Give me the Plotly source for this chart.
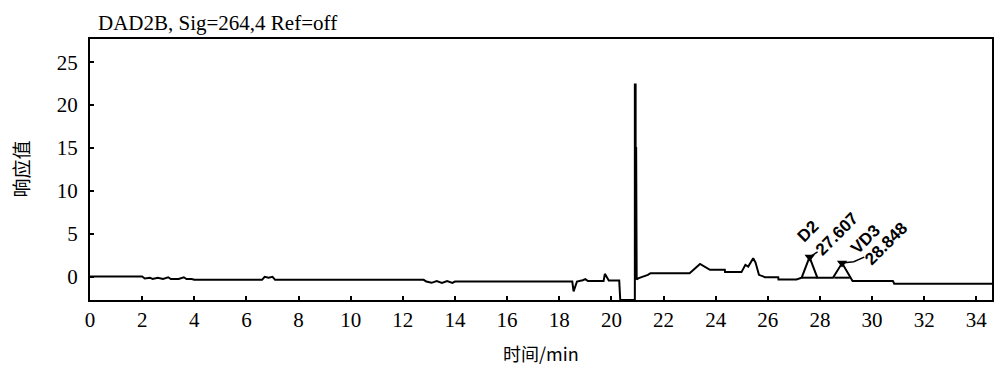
import plotly.graph_objects as go

# Chromatogram trace (time in min, response)
time_min = [0.0, 2.0, 2.1, 2.3, 2.4, 2.6, 2.8, 3.0, 3.1, 3.4, 3.6, 3.7, 3.9, 4.0,
            6.6, 6.7, 6.85, 7.0, 7.1, 12.8, 12.9, 13.1, 13.3, 13.5, 13.7, 13.9, 14.0,
            18.5, 18.55, 18.68, 18.9, 19.0, 19.1, 19.7, 19.75, 19.9, 20.3, 20.34,
            20.9, 20.9, 20.93, 20.93, 20.95, 20.97, 21.05, 21.4, 21.5,
            23.0, 23.4, 23.78, 24.35, 24.36, 24.99, 25.14, 25.25, 25.44, 25.53, 25.66, 25.89,
            26.4, 26.41, 27.1, 27.3, 27.6, 27.9, 28.0, 28.5, 28.85, 29.15, 29.25,
            30.8, 30.85, 34.6]
signal = [0.03, 0.03, -0.2, -0.1, -0.25, -0.1, -0.25, -0.05, -0.25, -0.25, -0.05, -0.25, -0.25, -0.35,
          -0.35, 0.0, -0.1, 0.0, -0.35, -0.35, -0.55, -0.7, -0.5, -0.7, -0.5, -0.7, -0.55,
          -0.55, -1.7, -0.55, -0.4, -0.27, -0.5, -0.5, 0.35, -0.43, -0.43, -2.7,
          -2.7, 22.4, 22.4, 15.0, 15.0, -0.3, -0.15, 0.23, 0.43,
          0.43, 1.5, 0.81, 0.81, 0.55, 0.55, 1.4, 1.2, 2.17, 1.66, 0.23, -0.04,
          -0.04, -0.3, -0.3, -0.1, 2.3, -0.1, -0.1, -0.1, 1.6, -0.1, -0.5,
          -0.5, -0.8, -0.8]

# Labelled peaks
peak_names = ["D2", "VD3"]
peak_times = [27.607, 28.848]
peak_heights = [2.3, 1.6]

x_ticks = list(range(0, 35, 2))
y_ticks = [0, 5, 10, 15, 20, 25]

serif = "Liberation Serif"
cjk = "Noto Sans CJK SC"
bold_sans = "Liberation Sans"

fig = go.Figure()
fig.add_trace(go.Scatter(x=time_min, y=signal, mode="lines",
                         line=dict(color="black", width=2), hoverinfo="skip",
                         showlegend=False))
# integration baselines under the labelled peaks
for t in peak_times:
    fig.add_trace(go.Scatter(x=[t - 0.3, t + 0.3], y=[-0.1, -0.1], mode="lines",
                             line=dict(color="black", width=2), showlegend=False,
                             hoverinfo="skip"))
fig.add_trace(go.Scatter(x=peak_times, y=peak_heights, mode="markers",
                         marker=dict(symbol="triangle-down", size=9, color="black"),
                         showlegend=False, hoverinfo="skip"))
# D2 leader tick
fig.add_trace(go.Scatter(x=[peak_times[0], peak_times[0] + 0.3],
                         y=[peak_heights[0], peak_heights[0] + 0.6],
                         mode="lines", line=dict(color="black", width=1.5),
                         showlegend=False, hoverinfo="skip"))
# VD3 leader line
fig.add_trace(go.Scatter(x=[peak_times[1], peak_times[1] + 0.45, peak_times[1] + 0.85],
                         y=[peak_heights[1], peak_heights[1] + 0.15, peak_heights[1] + 0.7],
                         mode="lines", line=dict(color="black", width=1.5),
                         showlegend=False, hoverinfo="skip"))

# Rotated peak labels (offsets from peak apex, in data units)
name_offsets = [(-0.07, 3.0), (0.9, 2.75)]
time_offsets = [(1.03, 2.65), (1.7, 2.3)]
lab_font = dict(family=bold_sans, size=17, color="black", weight="bold")
for name, t, h, dn, dt in zip(peak_names, peak_times, peak_heights, name_offsets, time_offsets):
    fig.add_annotation(x=t + dn[0], y=h + dn[1], text=name, showarrow=False,
                       textangle=-45, font=lab_font, xanchor="center", yanchor="middle")
    fig.add_annotation(x=t + dt[0], y=h + dt[1], text=f"{t:.3f}", showarrow=False,
                       textangle=-45, font=lab_font, xanchor="center", yanchor="middle")

fig.update_xaxes(range=[0, 34.6], tickvals=x_ticks, ticks="inside", ticklen=4,
                 tickwidth=1.5, tickcolor="black", showline=True, linecolor="black",
                 linewidth=2, mirror=True, showgrid=False, zeroline=False,
                 tickfont=dict(family=serif, size=21, color="black"))
fig.update_yaxes(range=[-2.7, 27.7], tickvals=y_ticks, ticks="inside", ticklen=4,
                 tickwidth=1.5, tickcolor="black", showline=True, linecolor="black",
                 linewidth=2, mirror=True, showgrid=False, zeroline=False,
                 ticklabelstandoff=6,
                 tickfont=dict(family=serif, size=21, color="black"))

fig.add_annotation(text="DAD2B, Sig=264,4 Ref=off", xref="paper", yref="paper",
                   x=0, y=1, xshift=6, yshift=2, xanchor="left", yanchor="bottom",
                   showarrow=False, font=dict(family=serif, size=21, color="black"))
fig.add_annotation(text="响应值", xref="paper", yref="paper", x=0, y=0.5,
                   xshift=-70, textangle=-90, xanchor="center", yanchor="middle",
                   showarrow=False, font=dict(family=cjk, size=19, color="black"))
fig.add_annotation(text="时间/min", xref="paper", yref="paper", x=0.5, y=0,
                   yshift=-53, xanchor="center", yanchor="middle",
                   showarrow=False, font=dict(family=cjk, size=18, color="black"))

fig.update_layout(width=995, height=367, margin=dict(l=90, r=1, t=39, b=67),
                  paper_bgcolor="white", plot_bgcolor="white")
fig.write_html("out.html", config={"displayModeBar": False},
               post_script="document.body.style.margin='0';")
